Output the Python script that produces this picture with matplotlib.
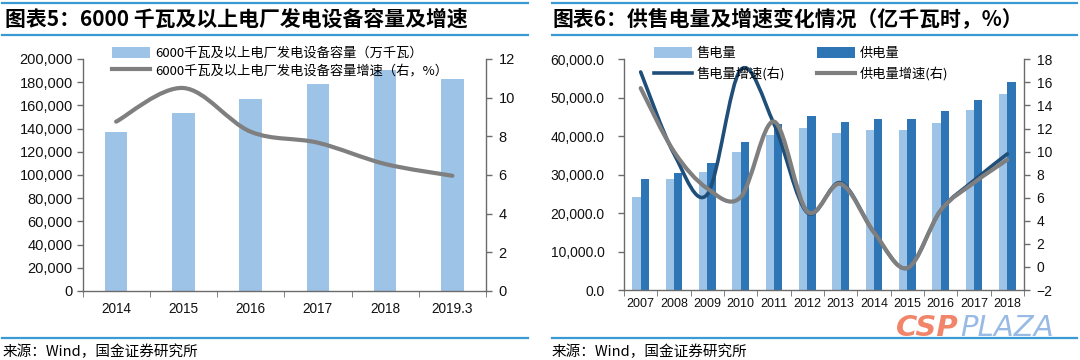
import numpy as np
import matplotlib
matplotlib.use('Agg')
import matplotlib.pyplot as plt
from matplotlib.path import Path
from matplotlib.patches import PathPatch, Patch
from matplotlib.lines import Line2D
from matplotlib.ticker import FuncFormatter, FixedLocator, MultipleLocator

plt.rcParams['font.family'] = ['Liberation Sans', 'Noto Sans CJK SC', 'DejaVu Sans']

# chart 5 data
years5 = ['2014', '2015', '2016', '2017', '2018', '2019.3']
capacity = [137300, 153200, 165200, 178400, 190500, 182500]
capacity_growth = [8.76, 10.5, 8.24, 7.67, 6.57, 5.96]

# chart 6 data
years6 = ['2007', '2008', '2009', '2010', '2011', '2012', '2013', '2014',
          '2015', '2016', '2017', '2018']
sold = [24300, 28800, 30700, 35900, 40200, 42100, 40900, 41700, 41700, 43500, 46700, 50900]
supplied = [28800, 30300, 32900, 38400, 43100, 45200, 43800, 44400, 44400, 46500, 49300, 54200]
sold_growth = [16.9, 9.8, 6.3, 17.1, 12.4, 4.7, 7.3, 3.0, -0.1, 4.9, 7.5, 9.8]
supplied_growth = [15.5, 10.0, 6.8, 6.05, 12.6, 4.8, 7.2, 3.0, -0.1, 4.9, 7.3, 9.3]

LIGHT = '#9DC3E6'
DARK = '#2E75B6'
NAVY = '#1F4E79'
GREY = '#7F7F7F'
RULE = '#3A9AD3'
SPINE = '#6b6b6b'
CJK = ['Noto Sans CJK SC', 'DejaVu Sans']

W, H = 1080, 360


def fx(px):
    return px / W


def fy(py):
    return 1 - py / H


def smooth_path(xs, ys):
    # Excel-style smoothed line: cubic bezier through every point
    pts = np.column_stack([xs, ys]).astype(float)
    n = len(pts)
    verts = [pts[0]]
    codes = [Path.MOVETO]
    for i in range(n - 1):
        p0 = pts[max(i - 1, 0)]
        p1 = pts[i]
        p2 = pts[i + 1]
        p3 = pts[min(i + 2, n - 1)]
        verts += [p1 + (p2 - p0) / 6, p2 - (p3 - p1) / 6, p2]
        codes += [Path.CURVE4] * 3
    return Path(verts, codes)


def style_axes(ax, ax2, ysize):
    for a in (ax, ax2):
        a.spines['top'].set_visible(False)
        for s in ('left', 'right', 'bottom'):
            a.spines[s].set_color(SPINE)
            a.spines[s].set_linewidth(1.0)
        a.tick_params(colors=SPINE, labelcolor='#111111', labelsize=ysize, length=4, width=1.0)
    ax.spines['right'].set_visible(False)
    ax2.spines['left'].set_visible(False)
    ax2.spines['bottom'].set_visible(False)


def legend_row(handle, label, x, y, size):
    fig.legend([handle], [label], loc='center left', bbox_to_anchor=(fx(x), fy(y)),
               frameon=False, prop={'family': CJK, 'size': size}, handlelength=2.9,
               handleheight=0.9, handletextpad=0.35, borderpad=0, borderaxespad=0)


fig = plt.figure(figsize=(10.8, 3.6), dpi=100)

# ---------------- chart 5 ----------------
ax = fig.add_axes([fx(82.5), fy(291), 403.5 / W, 232 / H])
ax2 = ax.twinx()
x5 = np.arange(len(years5))
ax.bar(x5, capacity, width=0.337, color=LIGHT, zorder=2)
ax.set_xlim(-0.5, len(years5) - 0.5)
ax.set_ylim(0, 200000)
ax.yaxis.set_major_locator(MultipleLocator(20000))
ax.yaxis.set_major_formatter(FuncFormatter(lambda v, p: f'{v:,.0f}'))
ax.xaxis.set_major_locator(FixedLocator(x5))
ax.set_xticklabels(years5)
ax.xaxis.set_minor_locator(FixedLocator(np.arange(-0.5, len(years5), 1.0)))
ax2.set_ylim(0, 12)
ax2.yaxis.set_major_locator(MultipleLocator(2))
ax2.add_patch(PathPatch(smooth_path(x5, capacity_growth), fill=False,
                        edgecolor=GREY, lw=3, capstyle='round', zorder=3))
style_axes(ax, ax2, 10.5)
ax.tick_params(axis='y', pad=3)
ax2.tick_params(axis='y', pad=5)
ax.tick_params(axis='x', which='major', length=0, pad=8, labelsize=9.8)
ax.tick_params(axis='x', which='minor', length=4, color=SPINE)

legend_row(Patch(facecolor=LIGHT, edgecolor='none'),
           '6000千瓦及以上电厂发电设备容量（万千瓦）', 112, 53.4, 9.5)
legend_row(Line2D([], [], color=GREY, lw=3),
           '6000千瓦及以上电厂发电设备容量增速（右，%）', 112, 70.6, 9.5)

# ---------------- chart 6 ----------------
bx = fig.add_axes([fx(624), fy(290), 400 / W, 230.7 / H])
bx2 = bx.twinx()
x6 = np.arange(len(years6))
bx.bar(x6 - 0.125, sold, width=0.25, color=LIGHT, zorder=2)
bx.bar(x6 + 0.125, supplied, width=0.25, color=DARK, zorder=2)
bx.set_xlim(-0.5, len(years6) - 0.5)
bx.set_ylim(0, 60000)
bx.yaxis.set_major_locator(MultipleLocator(10000))
bx.yaxis.set_major_formatter(FuncFormatter(lambda v, p: f'{v:,.1f}'))
bx.xaxis.set_major_locator(FixedLocator(x6))
bx.set_xticklabels(years6)
bx.xaxis.set_minor_locator(FixedLocator(np.arange(-0.5, len(years6), 1.0)))
bx2.set_ylim(-2, 18)
bx2.yaxis.set_major_locator(MultipleLocator(2))
bx2.add_patch(PathPatch(smooth_path(x6, sold_growth), fill=False,
                        edgecolor=NAVY, lw=2.6, capstyle='round', zorder=3))
bx2.add_patch(PathPatch(smooth_path(x6, supplied_growth), fill=False,
                        edgecolor=GREY, lw=3, capstyle='round', zorder=4))
style_axes(bx, bx2, 10)
bx.tick_params(axis='y', pad=10)
bx2.tick_params(axis='y', pad=5)
bx.tick_params(axis='x', which='major', length=0, pad=6, labelsize=9)
bx.tick_params(axis='x', which='minor', length=4, color=SPINE)

legend_row(Patch(facecolor=LIGHT, edgecolor='none'), '售电量', 653.6, 53.4, 9.5)
legend_row(Patch(facecolor=DARK, edgecolor='none'), '供电量', 817, 53.4, 9.5)
legend_row(Line2D([], [], color=NAVY, lw=2.6), '售电量增速(右)', 653.6, 74, 9.5)
legend_row(Line2D([], [], color=GREY, lw=3), '供电量增速(右)', 817, 74, 9.5)

# ---------------- titles, rules, sources ----------------
for x0, x1 in ((2, 528), (552, 1077)):
    for yy in (3, 35, 338):
        fig.add_artist(Line2D([fx(x0), fx(x1)], [fy(yy)] * 2,
                              color=RULE, lw=1.6, transform=fig.transFigure))

fig.text(fx(5), fy(19), '图表5：6000 千瓦及以上电厂发电设备容量及增速',
         family=CJK, weight='bold', size=15, va='center', ha='left')
fig.text(fx(552), fy(19), '图表6：供售电量及增速变化情况（亿千瓦时，%）',
         family=CJK, weight='bold', size=15, va='center', ha='left')
fig.text(fx(3), fy(352), '来源：Wind，国金证券研究所',
         family=CJK, size=10.5, va='center', ha='left')
fig.text(fx(552), fy(352), '来源：Wind，国金证券研究所',
         family=CJK, size=10.5, va='center', ha='left')

# watermark
fig.text(fx(896), fy(328), 'CSP', family='DejaVu Sans', weight='bold',
         style='italic', size=21, color='#F0785A', alpha=0.9, va='center', ha='left')
fig.text(fx(960), fy(328), 'PLAZA', family='DejaVu Sans',
         style='italic', size=21, color='#8DB3E2', alpha=0.9, va='center', ha='left')

fig.savefig('out.png', dpi=100)
plt.close(fig)
